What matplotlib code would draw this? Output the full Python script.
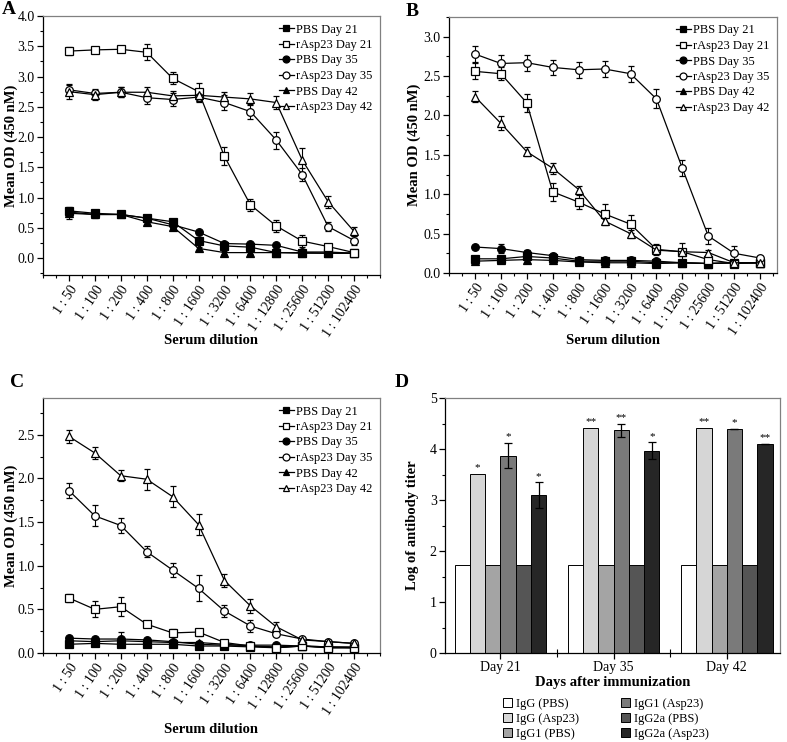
import matplotlib
matplotlib.use("Agg")
import matplotlib.pyplot as plt
import numpy as np
from matplotlib.ticker import MultipleLocator, FixedLocator
from matplotlib.lines import Line2D

plt.rcParams['font.family'] = ['Liberation Serif', 'DejaVu Serif']
plt.rcParams['mathtext.fontset'] = 'stix'

dilutions = ["1 : 50", "1 : 100", "1 : 200", "1 : 400", "1 : 800", "1 : 1600", "1 : 3200",
             "1 : 6400", "1 : 12800", "1 : 25600", "1 : 51200", "1 : 102400"]
series_names = ["PBS Day 21", "rAsp23 Day 21", "PBS Day 35", "rAsp23 Day 35", "PBS Day 42", "rAsp23 Day 42"]

# Panel A
A_pbs21 = [0.78, 0.74, 0.72, 0.66, 0.60, 0.29, 0.20, 0.18, 0.09, 0.09, 0.08, 0.08]
A_asp21 = [3.42, 3.44, 3.45, 3.40, 2.97, 2.75, 1.68, 0.88, 0.53, 0.28, 0.19, 0.09]
A_pbs35 = [0.76, 0.72, 0.72, 0.66, 0.55, 0.43, 0.24, 0.23, 0.21, 0.10, 0.10, 0.08]
A_asp35 = [2.78, 2.72, 2.74, 2.65, 2.62, 2.66, 2.57, 2.42, 1.95, 1.38, 0.52, 0.29]
A_pbs42 = [0.74, 0.72, 0.72, 0.60, 0.52, 0.16, 0.09, 0.09, 0.09, 0.08, 0.08, 0.08]
A_asp42 = [2.75, 2.70, 2.74, 2.74, 2.68, 2.69, 2.66, 2.63, 2.57, 1.62, 0.93, 0.44]
A_err_pbs21 = [0.03, 0.03, 0.02, 0.03, 0.03, 0.03, 0.02, 0.02, 0.02, 0.02, 0.02, 0.02]
A_err_asp21 = [0.06, 0.05, 0.02, 0.13, 0.10, 0.15, 0.15, 0.10, 0.10, 0.10, 0.03, 0.03]
A_err_pbs35 = [0.03, 0.06, 0.04, 0.03, 0.03, 0.02, 0.02, 0.02, 0.02, 0.02, 0.02, 0.02]
A_err_asp35 = [0.08, 0.08, 0.08, 0.10, 0.10, 0.08, 0.12, 0.12, 0.14, 0.10, 0.08, 0.08]
A_err_pbs42 = [0.10, 0.04, 0.03, 0.03, 0.03, 0.03, 0.02, 0.02, 0.02, 0.02, 0.02, 0.02]
A_err_asp42 = [0.12, 0.08, 0.08, 0.08, 0.08, 0.10, 0.08, 0.10, 0.10, 0.20, 0.10, 0.08]

# Panel B
B_pbs21 = [0.18, 0.18, 0.21, 0.19, 0.15, 0.15, 0.15, 0.13, 0.13, 0.12, 0.13, 0.13]
B_asp21 = [2.56, 2.53, 2.16, 1.03, 0.90, 0.75, 0.62, 0.30, 0.27, 0.17, 0.12, 0.13]
B_pbs35 = [0.33, 0.31, 0.26, 0.22, 0.17, 0.16, 0.16, 0.15, 0.13, 0.12, 0.13, 0.13]
B_asp35 = [2.78, 2.66, 2.67, 2.61, 2.58, 2.59, 2.53, 2.21, 1.33, 0.47, 0.25, 0.19]
B_pbs42 = [0.15, 0.16, 0.17, 0.16, 0.14, 0.13, 0.13, 0.12, 0.13, 0.12, 0.13, 0.13]
B_asp42 = [2.24, 1.90, 1.54, 1.33, 1.06, 0.66, 0.50, 0.29, 0.27, 0.26, 0.13, 0.13]
B_err_pbs21 = [0.02, 0.02, 0.04, 0.03, 0.02, 0.02, 0.02, 0.02, 0.02, 0.02, 0.02, 0.02]
B_err_asp21 = [0.10, 0.08, 0.11, 0.11, 0.09, 0.12, 0.11, 0.07, 0.11, 0.04, 0.02, 0.02]
B_err_pbs35 = [0.02, 0.06, 0.03, 0.03, 0.02, 0.02, 0.04, 0.03, 0.03, 0.02, 0.02, 0.02]
B_err_asp35 = [0.10, 0.11, 0.10, 0.10, 0.10, 0.10, 0.10, 0.12, 0.10, 0.10, 0.09, 0.03]
B_err_pbs42 = [0.02, 0.02, 0.03, 0.02, 0.02, 0.02, 0.02, 0.02, 0.02, 0.02, 0.02, 0.02]
B_err_asp42 = [0.07, 0.09, 0.06, 0.07, 0.05, 0.05, 0.05, 0.04, 0.03, 0.03, 0.02, 0.02]

# Panel C
C_pbs21 = [0.10, 0.11, 0.10, 0.10, 0.10, 0.08, 0.08, 0.07, 0.06, 0.08, 0.07, 0.06]
C_asp21 = [0.63, 0.50, 0.53, 0.33, 0.23, 0.24, 0.12, 0.08, 0.06, 0.08, 0.06, 0.06]
C_pbs35 = [0.17, 0.16, 0.16, 0.15, 0.13, 0.10, 0.09, 0.09, 0.09, 0.08, 0.07, 0.07]
C_asp35 = [1.86, 1.57, 1.46, 1.16, 0.95, 0.74, 0.48, 0.31, 0.22, 0.16, 0.13, 0.11]
C_pbs42 = [0.14, 0.13, 0.14, 0.13, 0.12, 0.12, 0.10, 0.08, 0.07, 0.08, 0.06, 0.06]
C_asp42 = [2.48, 2.29, 2.03, 1.99, 1.79, 1.47, 0.83, 0.54, 0.30, 0.15, 0.13, 0.11]
C_err_pbs21 = [0.02, 0.02, 0.02, 0.02, 0.02, 0.02, 0.02, 0.02, 0.02, 0.02, 0.02, 0.02]
C_err_asp21 = [0.05, 0.09, 0.11, 0.03, 0.05, 0.04, 0.02, 0.02, 0.02, 0.02, 0.02, 0.02]
C_err_pbs35 = [0.02, 0.02, 0.08, 0.02, 0.02, 0.02, 0.02, 0.02, 0.02, 0.02, 0.02, 0.02]
C_err_asp35 = [0.09, 0.12, 0.09, 0.06, 0.08, 0.15, 0.07, 0.07, 0.03, 0.02, 0.02, 0.02]
C_err_pbs42 = [0.02, 0.02, 0.02, 0.02, 0.02, 0.02, 0.02, 0.02, 0.02, 0.02, 0.02, 0.02]
C_err_asp42 = [0.07, 0.07, 0.06, 0.12, 0.12, 0.12, 0.07, 0.08, 0.06, 0.03, 0.02, 0.02]

# Panel D
days = ["Day 21", "Day 35", "Day 42"]
bar_names = ["IgG (PBS)", "IgG (Asp23)", "IgG1 (PBS)", "IgG1 (Asp23)", "IgG2a (PBS)", "IgG2a (Asp23)"]
igg_pbs = [1.72, 1.72, 1.72]
igg_asp = [3.51, 4.42, 4.41]
igg1_pbs = [1.72, 1.72, 1.72]
igg1_asp = [3.87, 4.37, 4.40]
igg2a_pbs = [1.72, 1.72, 1.72]
igg2a_asp = [3.10, 3.97, 4.10]
err_igg1_asp = [0.25, 0.13, 0.0]
err_igg2a_asp = [0.25, 0.16, 0.0]
stars_igg_asp = ["*", "**", "**"]
stars_igg1_asp = ["*", "**", "*"]
stars_igg2a_asp = ["*", "*", "**"]

W, H = 787, 742
fig = plt.figure(figsize=(W / 100, H / 100), dpi=100)

def fr(l, t, r, b):
    return [l / W, 1 - b / H, (r - l) / W, (b - t) / H]

styles = [
    dict(marker='s', mfc='black'),
    dict(marker='s', mfc='white'),
    dict(marker='o', mfc='black'),
    dict(marker='o', mfc='white'),
    dict(marker='^', mfc='black'),
    dict(marker='^', mfc='white'),
]

def style_axes(ax):
    for s in ['top', 'right']:
        ax.spines[s].set_color('#808080')
    for s in ['left', 'bottom']:
        ax.spines[s].set_color('black')
    for s in ax.spines.values():
        s.set_linewidth(0.9)
    ax.tick_params(which='major', direction='out', length=4, width=0.9, labelsize=10, pad=2)
    ax.tick_params(which='minor', direction='out', length=2.5, width=0.8)

def line_panel(rect, xmax, data, errs, ylim, ymajor, letter, letter_pos, xlabel_y, ylab_right):
    ax = fig.add_axes(fr(*rect))
    x = np.arange(len(dilutions))
    handles = []
    for vals, ee, st, name in zip(data, errs, styles, series_names):
        ax.errorbar(x, vals, yerr=ee, color='black', lw=0.9, marker=st['marker'],
                    mfc=st['mfc'], mec='black', ms=5.5, mew=0.9,
                    capsize=2.5, elinewidth=0.8, capthick=0.8,
                    zorder=3 if st['mfc'] == 'white' else 2)
        handles.append(Line2D([], [], color='black', lw=0.9, marker=st['marker'],
                              mfc=st['mfc'], mec='black', ms=5, mew=0.9, label=name))
    ax.set_xlim(-1, xmax)
    ax.set_ylim(*ylim)
    ax.yaxis.set_major_locator(MultipleLocator(ymajor))
    ax.yaxis.set_minor_locator(MultipleLocator(0.25))
    ax.yaxis.set_major_formatter(plt.FuncFormatter(lambda v, p: f"{v:.1f}"))
    ax.set_xticks(x)
    ax.set_xticklabels(dilutions, rotation=56, ha='right', rotation_mode='anchor', fontsize=9)
    ax.xaxis.set_minor_locator(MultipleLocator(0.5))
    style_axes(ax)
    ax.set_ylabel("Mean OD (450 nM)", fontsize=10.5, fontweight='bold')
    ax.yaxis.set_label_coords(-(rect[0] - ylab_right) / (rect[2] - rect[0]), 0.5)
    ax.set_xlabel("Serum dilution", fontsize=10.5, fontweight='bold')
    ax.xaxis.set_label_coords(0.5, xlabel_y)
    ax.legend(handles=handles, loc='upper right', bbox_to_anchor=(1.0, 1.0),
              frameon=False, fontsize=9, handlelength=1.2, handletextpad=0.2,
              labelspacing=0.28, borderaxespad=0.2)
    fig.text(letter_pos[0] / W, 1 - letter_pos[1] / H, letter, fontsize=14,
             fontweight='bold', ha='left', va='center')
    return ax

axA = line_panel((43, 16, 380, 275), 12,
                 [A_pbs21, A_asp21, A_pbs35, A_asp35, A_pbs42, A_asp42],
                 [A_err_pbs21, A_err_asp21, A_err_pbs35, A_err_asp35, A_err_pbs42, A_err_asp42],
                 (-0.28, 4.0), 0.5, "A", (2, 10), -0.228, 18)
axB = line_panel((449, 17, 777, 273), 11.65,
                 [B_pbs21, B_asp21, B_pbs35, B_asp35, B_pbs42, B_asp42],
                 [B_err_pbs21, B_err_asp21, B_err_pbs35, B_err_asp35, B_err_pbs42, B_err_asp42],
                 (0, 3.25), 0.5, "B", (406, 11), -0.24, 421)
axC = line_panel((43, 398, 380, 653), 12,
                 [C_pbs21, C_asp21, C_pbs35, C_asp35, C_pbs42, C_asp42],
                 [C_err_pbs21, C_err_asp21, C_err_pbs35, C_err_asp35, C_err_pbs42, C_err_asp42],
                 (0, 2.92), 0.5, "C", (10, 383), -0.275, 18)

# Panel D
axD = fig.add_axes(fr(445, 398, 780, 653))
xg = np.arange(len(days))
bw = 0.135
bar_vals = [igg_pbs, igg_asp, igg1_pbs, igg1_asp, igg2a_pbs, igg2a_asp]
bar_errs = [None, None, None, err_igg1_asp, None, err_igg2a_asp]
bar_cols = ['white', '#d6d6d6', '#a4a4a4', '#7a7a7a', '#555555', '#262626']
bar_stars = [None, stars_igg_asp, None, stars_igg1_asp, None, stars_igg2a_asp]
bar_handles = []
for i, (vals, ee, col, name, st) in enumerate(zip(bar_vals, bar_errs, bar_cols, bar_names, bar_stars)):
    pos = xg + (i - 2.5) * bw
    b = axD.bar(pos, vals, width=bw, color=col, edgecolor='black', linewidth=0.7, label=name)
    bar_handles.append(b)
    if ee is not None:
        axD.errorbar(pos, vals, yerr=ee, fmt='none', ecolor='black', elinewidth=0.9,
                     capsize=3, capthick=0.9)
    if st is not None:
        for p, v, e, s in zip(pos, vals, ee if ee is not None else [0] * 3, st):
            axD.text(p, v + e + 0.03, s, ha='center', va='bottom', fontsize=8)
axD.set_xlim(-0.49, 2.47)
axD.set_ylim(0, 5)
axD.yaxis.set_major_locator(MultipleLocator(1))
axD.yaxis.set_minor_locator(MultipleLocator(0.5))
axD.set_xticks(xg)
axD.set_xticklabels(days, fontsize=10)
axD.xaxis.set_minor_locator(FixedLocator([0.5, 1.5]))
style_axes(axD)
axD.tick_params(axis='x', which='minor', direction='inout', length=6)
axD.set_ylabel("Log of antibody titer", fontsize=10.5, fontweight='bold', labelpad=8)
axD.set_xlabel("Days after immunization", fontsize=10.5, fontweight='bold', labelpad=1)
fig.text(395 / W, 1 - 383 / H, "D", fontsize=14, fontweight='bold', ha='left', va='center')
fig.legend(handles=bar_handles, loc='upper left', bbox_to_anchor=(498 / W, 1 - 693 / H),
           ncol=2, frameon=False, fontsize=9, handlelength=0.75, handleheight=0.75,
           handletextpad=0.25, labelspacing=0.25, columnspacing=3.4, borderaxespad=0)

fig.savefig("out.png", dpi=100)
